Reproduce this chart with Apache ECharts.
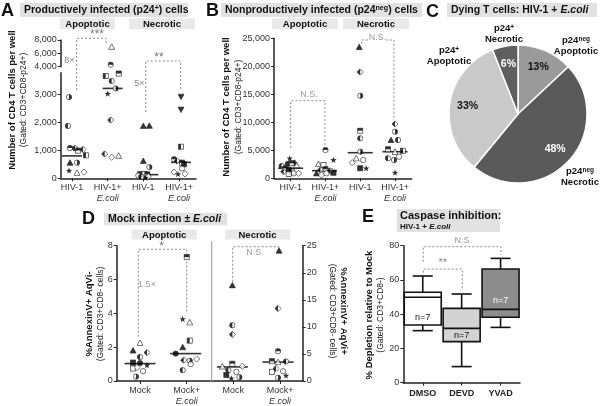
<!DOCTYPE html>
<html><head><meta charset="utf-8">
<script src="https://cdn.jsdelivr.net/npm/echarts@6/dist/echarts.min.js"></script>
<style>html,body{margin:0;padding:0;background:#fff}#c{width:600px;height:406px}</style>
</head><body><div id="c"></div>
<script>
// ================= DATA =================
const catsA = ['HIV-1', 'HIV-1+\nE.coli', 'HIV-1', 'HIV-1+\nE.coli'];
const catsB = ['HIV-1', 'HIV-1+\nE.coli', 'HIV-1', 'HIV-1+\nE.coli'];
const catsD = ['Mock', 'Mock+\nE.coli', 'Mock', 'Mock+\nE.coli'];
const catsE = ['DMSO', 'DEVD', 'YVAD'];

const ticksALow = [0, 1000, 2000, 3000];
const ticksAUp = [4000, 6000, 8000];

// Panel A: productively infected (p24+)
const aApoHiv   = [2900, 1870, 1080, 1070, 990, 1030, 820, 560, 560, 270, 200, 220];
const aApoHivE  = [7000, 4300, 3650, 3740, 3475, 3210, 3020, 2080, 870, 750, 810];
const aNecHiv   = [1870, 1880, 620, 400, 150, 160, 140, 100, 60, 20, 50];
const aNecHivE  = [2910, 2450, 1130, 680, 620, 560, 500, 350, 220, 150, 160];
const aMedians  = [800, 3210, 130, 570];

// Panel B: nonproductively infected (p24neg)
const bApoHiv   = [3570, 2790, 2550, 2680, 2370, 2200, 1790, 1480, 1180, 1180, 890, 890, 770];
const bApoHivE  = [5050, 3270, 2550, 2370, 1610, 1480, 1360, 890, 890, 1000, 590];
const bNecHiv   = [23440, 18980, 14750, 8500, 7140, 4750, 3570, 3270, 2790, 1790, 1790];
const bNecHivE  = [9700, 8320, 6840, 6840, 5180, 4930, 4750, 3860, 3570, 3270, 1000];
const bMedians  = [1800, 1360, 4570, 4750];

// Panel C: pie
const pieNames  = ['p24neg Apoptotic', 'p24neg Necrotic', 'p24+ Apoptotic', 'p24+ Necrotic'];
const pieValues = [13, 48, 33, 6];

// Panel D: mock infection
const dApoMock  = [2.26, 1.81, 1.42, 1.68, 1.09, 0.74, 1.06, 0.93, 0.58, 0.8, 0.26];
const dApoMockE = [7.32, 3.66, 3.47, 2.39, 2.0, 1.62, 1.23, 1.2, 1.3, 1.0, 0.64];
const dNecMock  = [17.7, 10.3, 8.6, 3.2, 2.7, 2.7, 2.0, 1.7, 1.1, 0.5, 0.7];
const dNecMockE = [24.1, 13.4, 5.5, 3.65, 3.5, 3.6, 1.7, 2.3, 1.8, 1.0, 0.6];
const dMedians  = [1.03, 1.62, 2.6, 3.5];

// Panel E: caspase inhibition box plots
const eMin = [30.4, 9.4, 32.3];
const eQ1  = [33.7, 24.0, 38.2];
const eMed = [49.9, 31.7, 42.8];
const eQ3  = [52.8, 43.4, 66.4];
const eMax = [62.3, 51.8, 72.6];
const eN   = ['n=7', 'n=7', 'n=7'];

// ================= MARKER STYLE / JITTER (layout only) =================
const mkAApoHiv  = ['chr','chl','cht','chl','sht','dh','shl','tr','chr','st','to','do'];
const jtAApoHiv  = [-3,-4,-2,3,6,11,14,-2,5,-3,5,12];
const mkAApoHivE = ['to','cht','shl','sht','chl','chr','st','dh','dh','do','to'];
const jtAApoHivE = [4,3,-2,11,4,8,0,3,-3,4,11];
const mkANecHiv  = ['tr','tr','tr','chr','sq','so','sht','co','do','st','chl'];
const jtANecHiv  = [0,6,0,6,-3,1,4,-5,5,2,-2];
const mkANecHivE = ['tv','tv','shl','cht','dh','sht','sq','co','do','st','do'];
const jtANecHivE = [2,2,2,-5,-2,3,5,3,-5,-1,6];
const medOffA = [0, 5, 5, 2];

const mkBApoHiv  = ['st','tr','ci','sht','to','chl','cht','sq','shl','dh','co','do','so'];
const jtBApoHiv  = [-1,4,-3,1,6,-9,-6,-2,1,-7,3,8,-2];
const mkBApoHivE = ['cht','st','to','so','sht','dh','chl','tr','co','sq','do'];
const jtBApoHivE = [0,8,-7,-2,0,-5,5,-9,1,8,-4];
const mkBNecHiv  = ['tr','dh','chr','sht','chl','chr','to','co','do','sq','st'];
const jtBNecHiv  = [-1,0,0,0,0,0,-4,3,-8,0,6];
const mkBNecHivE = ['dh','chr','tr','chl','sht','shl','to','co','chl','chr','st'];
const jtBNecHivE = [0,0,-4,3,-7,8,0,4,-7,-1,0];

const mkDApoMock  = ['to','tr','chl','dh','sq','so','ci','st','co','do','chr'];
const jtDApoMock  = [0,-7,0,7,-7,-7,0,7,3,-3,-4];
const mkDApoMockE = ['sht','st','to','shl','tr','ci','dh','chr','do','co','chl'];
const jtDApoMockE = [0,-4,3,3,-4,-11,-3,3,10,4,-4];
const mkDNecMock  = ['tr','chl','dh','sht','to','do','chl','co','sq','st','chr'];
const jtDNecMock  = [-1,-1,-1,-1,-11,9,-5,3,-7,-2,6];
const mkDNecMockE = ['tr','dh','cht','sht','to','chl','so','dh','co','st','chr'];
const jtDNecMockE = [-1,-2,-2,-8,-2,6,-8,-4,3,6,-2];

const FONT = '"Liberation Sans", Arial, Helvetica, sans-serif';
const AX = '#222';

function fmtK(v){ return String(Math.round(v)).replace(/\B(?=(\d{3})+(?!\d))/g, ','); }

function starPts(){
  const p=[];
  for(let i=0;i<10;i++){const a=(-90+i*36)*Math.PI/180; const r=i%2?2.4:5.8; p.push((6+r*Math.cos(a)).toFixed(2)+','+(6.4+r*Math.sin(a)).toFixed(2));}
  return p.join(' ');
}
const symCache={};
function sym(k){
  if(symCache[k]) return symCache[k];
  const S='stroke="#000" stroke-width="1.2"', W='fill="#fff"', B='fill="#000"';
  const circ=f=>`<circle cx="6" cy="6" r="4.6" ${f} ${S}/>`;
  const sq=f=>`<rect x="1.6" y="1.6" width="8.8" height="8.8" ${f} ${S}/>`;
  const dia=f=>`<polygon points="6,0.6 11.4,6 6,11.4 0.6,6" ${f} ${S}/>`;
  const tri=f=>`<polygon points="6,1 11.3,10.6 0.7,10.6" ${f} ${S}/>`;
  let b='';
  switch(k){
    case 'ci': b=circ(B);break;
    case 'co': b=circ(W);break;
    case 'chl': b=circ(W)+`<path d="M6 1.4 A4.6 4.6 0 0 0 6 10.6 Z" ${B}/>`;break;
    case 'chr': b=circ(W)+`<path d="M6 1.4 A4.6 4.6 0 0 1 6 10.6 Z" ${B}/>`;break;
    case 'cht': b=circ(W)+`<path d="M1.4 6 A4.6 4.6 0 0 1 10.6 6 Z" ${B}/>`;break;
    case 'sq': b=sq(B);break;
    case 'so': b=sq(W);break;
    case 'sht': b=sq(W)+`<rect x="1.6" y="1.6" width="8.8" height="4.4" ${B}/>`;break;
    case 'shl': b=sq(W)+`<rect x="1.6" y="1.6" width="4.4" height="8.8" ${B}/>`;break;
    case 'do': b=dia(W);break;
    case 'dh': b=dia(W)+`<polygon points="6,0.6 6,11.4 0.6,6" ${B}/>`;break;
    case 'tr': b=tri(B);break;
    case 'to': b=tri(W);break;
    case 'tv': b=`<polygon points="0.7,1.4 11.3,1.4 6,11" ${B} ${S}/>`;break;
    case 'st': b=`<polygon points="${starPts()}" ${B}/>`;break;
  }
  const svg=`<svg xmlns="http://www.w3.org/2000/svg" width="24" height="24" viewBox="0 0 12 12">${b}</svg>`;
  return symCache[k]='image://data:image/svg+xml;charset=utf-8,'+encodeURIComponent(svg);
}

function pts(cat, vals, marks, jit, xi, yi, filt){
  const data=[];
  vals.forEach((v,i)=>{ if(!filt || filt(v)) data.push({value:[cat,v], symbol:sym(marks[i]), symbolOffset:[jit[i],0]}); });
  return {type:'scatter', xAxisIndex:xi, yAxisIndex:yi, symbolSize:7, silent:true, z:4, data};
}
function medSeries(meds, offs, w, xi, yiArr){
  return meds.map((m,i)=>({type:'scatter', xAxisIndex:xi, yAxisIndex:yiArr[i], silent:true, z:3,
    symbol:'rect', symbolSize:[w,1.6], itemStyle:{color:'#000'},
    data:[{value:[i+1,m], symbolOffset:[offs?offs[i]:0,0]}]}));
}

function catLabel(cats){
  return {customValues:[1,2,3,4], margin:4, color:'#333', fontFamily:FONT,
    formatter: v => { const s=cats[Math.round(v)-1]||''; const p=s.split('\n');
      return p.length>1 ? `{n|${p[0]}}\n{i|${p[1]}}` : `{n|${p[0]}}`; },
    rich:{n:{fontSize:9, lineHeight:11, color:'#333', fontFamily:FONT}, i:{fontSize:9, lineHeight:11, fontStyle:'italic', color:'#333', fontFamily:FONT}}};
}
function xVal(gi, min, max, cats, show){
  return {type:'value', gridIndex:gi, min, max, show: show!==false,
    axisLine:{show:true, onZero:false, lineStyle:{color:AX, width:1.5}},
    axisTick:{show:true, customValues:[1,2,3,4], length:3, lineStyle:{color:AX}},
    axisLabel: catLabel(cats), splitLine:{show:false}};
}
function yVal(gi, min, max, extra){
  return Object.assign({type:'value', gridIndex:gi, min, max,
    axisLine:{show:true, lineStyle:{color:AX, width:1.5}},
    axisTick:{show:true, length:3, lineStyle:{color:AX}},
    axisLabel:{fontSize:9, color:'#333', fontFamily:FONT, margin:4, formatter:v=>fmtK(v)},
    splitLine:{show:false}}, extra||{});
}

const series = [];
// Panel A (lower grid: xAxis0/yAxis0, upper grid: xAxis1/yAxis1)
const lowA = v => v < 4000, upA = v => v >= 4000;
[[aApoHiv,mkAApoHiv,jtAApoHiv],[aApoHivE,mkAApoHivE,jtAApoHivE],[aNecHiv,mkANecHiv,jtANecHiv],[aNecHivE,mkANecHivE,jtANecHivE]]
  .forEach((g,i)=>{ series.push(pts(i+1,g[0],g[1],g[2],0,0,lowA)); series.push(pts(i+1,g[0],g[1],g[2],1,1,upA)); });
series.push(...medSeries(aMedians, medOffA, 20, 0, [0,0,0,0]));
// Panel B
[[bApoHiv,mkBApoHiv,jtBApoHiv],[bApoHivE,mkBApoHivE,jtBApoHivE],[bNecHiv,mkBNecHiv,jtBNecHiv],[bNecHivE,mkBNecHivE,jtBNecHivE]]
  .forEach((g,i)=>series.push(pts(i+1,g[0],g[1],g[2],2,2)));
series.push(...medSeries(bMedians, [0,-1,0,0], 25, 2, [2,2,2,2]));
// Panel D (apoptotic on left axis 3, necrotic on right axis 4)
series.push(pts(1,dApoMock,mkDApoMock,jtDApoMock,3,3));
series.push(pts(2,dApoMockE,mkDApoMockE,jtDApoMockE,3,3));
series.push(pts(3,dNecMock,mkDNecMock,jtDNecMock,3,4));
series.push(pts(4,dNecMockE,mkDNecMockE,jtDNecMockE,3,4));
series.push(...medSeries(dMedians, [0,-1,-1,-2], 31, 3, [3,3,4,4]));

// Panel E boxplots
const boxFill = ['#ffffff', '#d3d3d3', '#8c8c8c'];
const nColor = ['#111', '#111', '#fff'];
const nAt = [38.2, 27.3, 47.9];
series.push({type:'custom', xAxisIndex:4, yAxisIndex:5, silent:true, z:3,
  data: catsE.map((c,i)=>[i, eMin[i], eQ1[i], eMed[i], eQ3[i], eMax[i]]),
  renderItem(params, api){
    const i=api.value(0); const cx=api.coord([i,0])[0];
    const y=k=>api.coord([i,api.value(k)])[1];
    const bw=37, cw=20, st={stroke:'#111', lineWidth:1.6};
    const yMin=y(1), yQ1=y(2), yMed=y(3), yQ3=y(4), yMax=y(5);
    return {type:'group', children:[
      {type:'line', shape:{x1:cx,y1:yMax,x2:cx,y2:yQ3}, style:st},
      {type:'line', shape:{x1:cx,y1:yQ1,x2:cx,y2:yMin}, style:st},
      {type:'line', shape:{x1:cx-cw/2,y1:yMax,x2:cx+cw/2,y2:yMax}, style:st},
      {type:'line', shape:{x1:cx-cw/2,y1:yMin,x2:cx+cw/2,y2:yMin}, style:st},
      {type:'rect', shape:{x:cx-bw/2,y:yQ3,width:bw,height:yQ1-yQ3}, style:{fill:boxFill[i], stroke:'#111', lineWidth:1.6}},
      {type:'line', shape:{x1:cx-bw/2,y1:yMed,x2:cx+bw/2,y2:yMed}, style:st},
      {type:'text', x:cx, y:api.coord([i,nAt[i]])[1], style:{text:eN[i], fill:nColor[i], fontSize:9, fontFamily:FONT, align:'center', verticalAlign:'middle'}}
    ]};
  }});

// Panel C pie
const pieColors = ['#9a9a9a', '#5a5a5a', '#c9c9c9', '#5e5e5e'];
const pieLabelColors = ['#111', '#fff', '#111', '#fff'];
series.push({type:'pie', center:[518,114], radius:69, startAngle:90, clockwise:true, silent:true,
  label:{show:false}, labelLine:{show:false},
  itemStyle:{borderColor:'#fff', borderWidth:1.5},
  data: pieValues.map((v,i)=>({name:pieNames[i], value:v, itemStyle:{color:pieColors[i]}}))});
series.push({type:'pie', center:[518,114], radius:96, startAngle:90, clockwise:true, silent:true, z:5,
  itemStyle:{color:'rgba(0,0,0,0)'}, labelLine:{show:false},
  label:{show:true, position:'inside', formatter:'{c}%', fontSize:10.5, fontWeight:'bold', fontFamily:FONT},
  data: pieValues.map((v,i)=>({name:pieNames[i], value:v, label:{color:pieLabelColors[i]}}))});

// ================= GRAPHIC (titles, headers, annotations) =================
const G = [];
function txt(x,y,text,o){ o=o||{}; G.push({type:'text', x, y, rotation:o.rot||0, z:10, style:Object.assign({text, fill:o.fill||'#111', fontSize:o.size||9, fontWeight:o.bold?'bold':'normal', fontFamily:FONT, align:o.align||'center', verticalAlign:'middle'}, o.rich?{rich:o.rich}:{})}); }
function rect(x,y,w,h,fill){ G.push({type:'rect', z:1, shape:{x,y,width:w,height:h}, style:{fill}}); }
function hbox(x,y,w,h,text,o){ rect(x,y,w,h,o.fill||'#e1e1e1'); txt(o.center? x+w/2 : x+4, y+h/2+0.5, text, {bold:true, size:o.size||10.5, align:o.center?'center':'left', rich:RICH(o.size||10.5)}); }
function RICH(s){ return {
  b:{fontSize:s, fontWeight:'bold', fill:'#111', fontFamily:FONT},
  s:{fontSize:s*0.68, fontWeight:'bold', fill:'#111', fontFamily:FONT, verticalAlign:'top', lineHeight:s*1.2},
  i:{fontSize:s, fontWeight:'bold', fontStyle:'italic', fill:'#111', fontFamily:FONT}}; }
function bracket(pts){ G.push({type:'polyline', z:2, shape:{points:pts}, style:{stroke:'#8a8a8a', lineWidth:1, lineDash:[2,2], fill:null}}); }

// panel letters
[['A',1,11],['B',206,11],['C',426,12],['D',82,219],['E',362,217]].forEach(l=>txt(l[1],l[2],l[0],{bold:true,size:18,align:'left'}));
// headers
hbox(20,3,168,14,'{b|Productively infected (p24}{s|+}{b|) cells}',{});
hbox(60,18.3,55,11,'Apoptotic',{center:true,size:9.5,fill:'#e9e9e9'});
hbox(129,18.3,66,11,'Necrotic',{center:true,size:9.5,fill:'#e9e9e9'});
hbox(221,3,201,14,'{b|Nonproductively infected (p24}{s|neg}{b|) cells}',{});
hbox(272,18.3,66,11,'Apoptotic',{center:true,size:9.5,fill:'#e9e9e9'});
hbox(343,18.3,66,11,'Necrotic',{center:true,size:9.5,fill:'#e9e9e9'});
hbox(447,3,150,14,'{b|Dying T cells: HIV-1 + }{i|E.coli}',{});
hbox(104,212.7,123,12.5,'{b|Mock infection ± }{i|E.coli}',{});
hbox(131.7,229.5,65,10,'Apoptotic',{center:true,size:9.5,fill:'#e9e9e9'});
hbox(225,229.5,65,10,'Necrotic',{center:true,size:9.5,fill:'#e9e9e9'});
rect(396.7,209,103.3,23,'#e1e1e1');
txt(400,220.5,'{t|Caspase inhibition:}\n{u|HIV-1 + }{ui|E.coli}',{align:'left', rich:{
  t:{fontSize:11, fontWeight:'bold', fill:'#111', fontFamily:FONT, lineHeight:13},
  u:{fontSize:8, fontWeight:'bold', fill:'#111', fontFamily:FONT, lineHeight:10},
  ui:{fontSize:8, fontWeight:'bold', fontStyle:'italic', fill:'#111', fontFamily:FONT, lineHeight:10}}});

// axis titles
const ytR = {b:{fontSize:9.5, fontWeight:'bold', fill:'#111', fontFamily:FONT, lineHeight:12}, n:{fontSize:8.5, fill:'#222', fontFamily:FONT, lineHeight:12}};
txt(18,100,'{b|Number of CD4 T cells per well}\n{n|(Gated: CD3+CD8-p24+)}',{rot:Math.PI/2, rich:ytR});
txt(232.5,107,'{b|Number of CD4 T cells per well}\n{n|(Gated: CD3+CD8-p24+)}',{rot:Math.PI/2, rich:ytR});
txt(95,314,'{b|%AnnexinV+ AqVi-}\n{n|(Gated: CD3+CD8- cells)}',{rot:Math.PI/2, rich:ytR});
txt(338,311,'{b|%AnnexinV+ AqVi+}\n{n|(Gated: CD3+CD8- cells)}',{rot:-Math.PI/2, rich:ytR});
txt(375,315,'{b|% Depletion relative to Mock}\n{n|(Gated: CD3+CD8-)}',{rot:Math.PI/2, rich:ytR});

// pie outer labels
const pR = {b:{fontSize:9.5, fontWeight:'bold', fill:'#111', fontFamily:FONT, lineHeight:10.5}, s:{fontSize:6.5, fontWeight:'bold', fill:'#111', fontFamily:FONT, verticalAlign:'top', lineHeight:10.5}};
txt(504,34,'{b|p24}{s|+}\n{b|Necrotic}',{rich:pR});
txt(576,46,'{b|p24}{s|neg}\n{b|Apoptotic}',{rich:pR});
txt(449,56,'{b|p24}{s|+}\n{b|Apoptotic}',{rich:pR});
txt(580,177,'{b|p24}{s|neg}\n{b|Necrotic}',{rich:pR});

// significance brackets and annotations
bracket([[76.7,90],[76.7,38.3],[106,38.3],[106,43.3]]);
txt(97,35,'***',{fill:'#777', size:12});
txt(69.5,61,'8×',{fill:'#888', size:9});
bracket([[145.7,112],[145.7,61],[180.7,61],[180.7,90.7]]);
txt(159,58,'**',{fill:'#777', size:12});
txt(139.5,84,'5×',{fill:'#888', size:9});
bracket([[290.7,148],[290.7,100.7],[325,100.7],[325,145]]);
txt(309,95,'N.S.',{fill:'#999', size:9});
bracket([[361.7,44],[361.7,40],[394,40],[394,120]]);
G.push({type:'rect', z:3, shape:{x:369,y:34,width:17,height:9}, style:{fill:'#fff'}});
txt(377.5,38,'N.S.',{fill:'#999', size:9});
bracket([[138.3,336.7],[138.3,249.3],[186.7,249.3],[186.7,311.7]]);
txt(161.7,247,'*',{fill:'#777', size:12});
txt(147,285,'1.5×',{fill:'#999', size:9});
bracket([[232.7,281.7],[232.7,246.7],[279,246.7],[279,249]]);
txt(255,253,'N.S.',{fill:'#999', size:9});
bracket([[423.3,272.7],[423.3,269],[462.3,269],[462.3,288.3]]);
txt(442.7,263,'**',{fill:'#888', size:11});
bracket([[423.3,261.7],[423.3,246.7],[501,246.7],[501,255]]);
txt(463.3,241,'N.S.',{fill:'#999', size:9});
// D divider
G.push({type:'line', z:1, shape:{x1:211.7,y1:241,x2:211.7,y2:382.7}, style:{stroke:'#999', lineWidth:1}});

// ================= OPTION =================
const option = {
  animation:false,
  backgroundColor:'#fff',
  textStyle:{fontFamily:FONT},
  grid:[
    {left:60.7, top:72.7, width:135.3, height:105.6},
    {left:60.7, top:40, width:135.3, height:26.7},
    {left:274, top:38.3, width:137.7, height:140},
    {left:116.7, top:245.7, width:186, height:137},
    {left:403.3, top:245.7, width:116.7, height:137}
  ],
  xAxis:[
    xVal(0, 0.683, 4.476, catsA),
    Object.assign(xVal(1, 0.683, 4.476, catsA), {show:false}),
    xVal(2, 0.52, 4.48, catsB),
    xVal(3, 0.5, 4.486, catsD),
    {type:'category', gridIndex:4, data:catsE,
      axisLine:{show:true, lineStyle:{color:AX, width:1.5}},
      axisTick:{show:true, alignWithLabel:true, length:3, lineStyle:{color:AX}},
      axisLabel:{fontSize:9, fontWeight:'bold', color:'#222', fontFamily:FONT, margin:6}}
  ],
  yAxis:[
    yVal(0, 0, 3771, {axisTick:{show:true, length:3, customValues:ticksALow, lineStyle:{color:AX}}, axisLabel:{fontSize:9, color:'#333', fontFamily:FONT, margin:4, customValues:ticksALow, formatter:v=>fmtK(v)}}),
    yVal(1, 4000, 8000, {axisTick:{show:true, length:3, customValues:ticksAUp, lineStyle:{color:AX}}, axisLabel:{fontSize:9, color:'#333', fontFamily:FONT, margin:4, customValues:ticksAUp, formatter:v=>fmtK(v)}}),
    yVal(2, 0, 25000, {interval:5000}),
    yVal(3, 0, 8, {interval:2}),
    yVal(3, 0, 25, {interval:5, position:'right'}),
    yVal(4, 0, 80, {interval:20})
  ],
  series,
  graphic:{elements:G}
};
const chart = echarts.init(document.getElementById('c'), null, {renderer:'canvas', width:600, height:406});
chart.setOption(option);
</script>
</body></html>
